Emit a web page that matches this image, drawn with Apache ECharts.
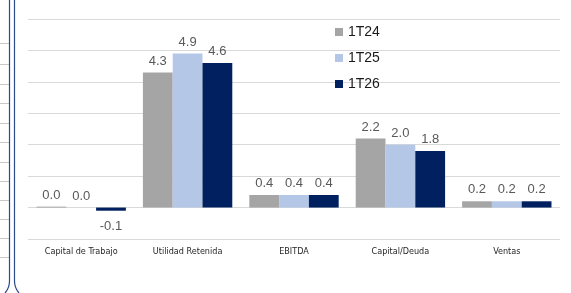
<!DOCTYPE html>
<html>
<head>
<meta charset="utf-8">
<script src="https://cdn.jsdelivr.net/npm/echarts@6/dist/echarts.min.js"></script>
<style>
  html, body { margin: 0; padding: 0; background: #fff; }
  #chart { width: 571px; height: 293px; }
</style>
</head>
<body>
<div id="chart"></div>
<script>
const categories = ["Capital de Trabajo", "Utilidad Retenida", "EBITDA", "Capital/Deuda", "Ventas"];
const seriesNames = ["1T24", "1T25", "1T26"];
const values1T24 = [0.03, 4.3, 0.4, 2.2, 0.2];
const values1T25 = [0.0, 4.9, 0.4, 2.0, 0.2];
const values1T26 = [-0.1, 4.6, 0.4, 1.8, 0.2];
const colors = ["#a5a5a5", "#b4c7e7", "#002060"];

const myChart = echarts.init(document.getElementById("chart"));

// side frame of the page the chart was cut from
const frameTicks = [43, 64, 84, 103, 123, 142, 162, 181, 200, 219, 238, 257];
const frameStyle = { stroke: "#2e4a8c", lineWidth: 1.2, fill: null };
const decor = frameTicks.map((y) => ({
  type: "line",
  shape: { x1: 0, y1: y + 0.5, x2: 9, y2: y + 0.5 },
  style: { stroke: "#c8c8c8", lineWidth: 1 },
  silent: true,
}));
decor.push(
  { type: "line", shape: { x1: 9.5, y1: 0, x2: 9.5, y2: 281 }, style: frameStyle, silent: true },
  { type: "line", shape: { x1: 14.5, y1: 0, x2: 14.5, y2: 281 }, style: frameStyle, silent: true },
  {
    type: "bezierCurve",
    shape: { x1: 9.5, y1: 281, x2: 5, y2: 293, cpx1: 9.5, cpy1: 288 },
    style: frameStyle,
    silent: true,
  },
  {
    type: "bezierCurve",
    shape: { x1: 14.5, y1: 281, x2: 19, y2: 293, cpx1: 14.5, cpy1: 288 },
    style: frameStyle,
    silent: true,
  }
);

const makeSeries = (name, data, i) => ({
  name: name,
  type: "bar",
  // negative values get their label under the bar
  data: data.map((v) =>
    v < 0 ? { value: v, label: { position: "bottom", distance: 9 } } : v
  ),
  barGap: "0%",
  barCategoryGap: "16%",
  itemStyle: { color: colors[i] },
  label: {
    show: true,
    position: "top",
    distance: 5,
    fontFamily: "Liberation Sans",
    fontSize: 13,
    color: "#595959",
    formatter: (p) => Number(p.value).toFixed(1),
  },
});

const option = {
  animation: false,
  graphic: decor,
  grid: { left: 28, right: 11, top: 19, bottom: 54 },
  legend: {
    data: seriesNames,
    orient: "vertical",
    left: 330,
    top: 20,
    icon: "rect",
    itemWidth: 8,
    itemHeight: 8,
    itemGap: 12,
    textStyle: { fontFamily: "Liberation Sans", fontSize: 14, color: "#1a1a1a" },
  },
  xAxis: {
    type: "category",
    data: categories,
    position: "bottom",
    axisLine: { show: false, onZero: false },
    axisTick: { show: false },
    axisLabel: {
      margin: 8,
      fontFamily: "'DejaVu Sans Condensed', 'Liberation Sans', sans-serif",
      fontSize: 9,
      color: "#262626",
    },
  },
  yAxis: {
    type: "value",
    min: -1,
    max: 6,
    interval: 1,
    axisLabel: { show: false },
    axisLine: { show: false },
    axisTick: { show: false },
    splitLine: { lineStyle: { color: "#d9d9d9", width: 1 } },
  },
  series: [
    makeSeries(seriesNames[0], values1T24, 0),
    makeSeries(seriesNames[1], values1T25, 1),
    makeSeries(seriesNames[2], values1T26, 2),
  ],
};

myChart.setOption(option);
</script>
</body>
</html>
